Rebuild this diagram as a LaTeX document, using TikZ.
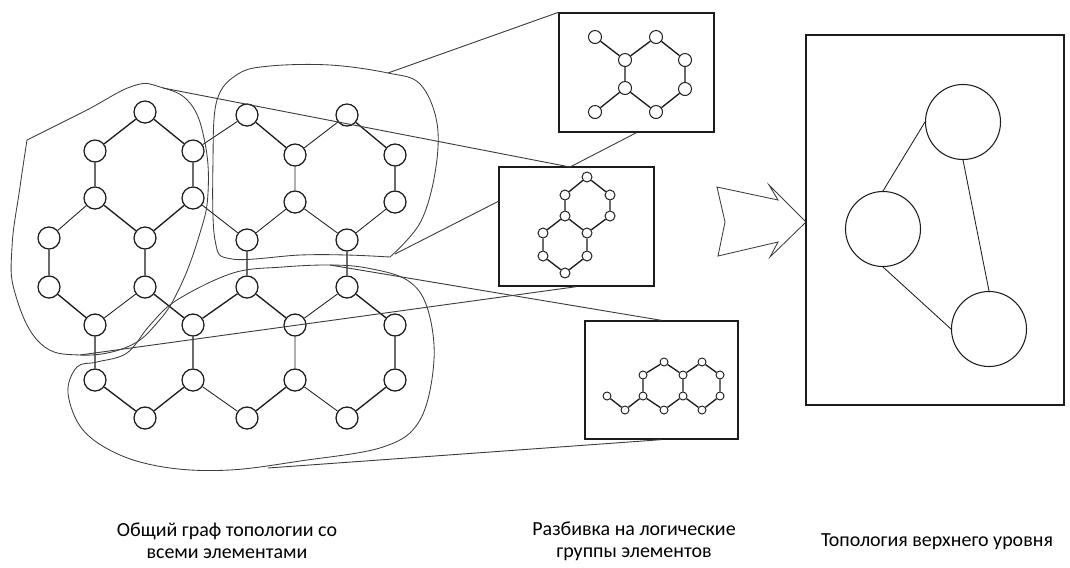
\documentclass[tikz,border=0pt]{standalone}
\usepackage{fontspec}
\setmainfont{Carlito}
\usepackage{xcolor}
\usepackage{tikz}
\definecolor{ink}{HTML}{1C1C1C}
\definecolor{blobgray}{HTML}{3C3C3C}

\begin{document}
\begin{tikzpicture}[x=0.025cm, y=-0.025cm,
  vtx/.style={circle, draw=ink, line width=0.9pt, inner sep=0pt, minimum size=0.55cm},
  vtxa/.style={vtx, line width=0.7pt, minimum size=0.325cm},
  vtxb/.style={vtx, line width=0.7pt, minimum size=0.25cm},
  vtxc/.style={vtx, line width=0.65pt, minimum size=0.2cm},
  bigvtx/.style={circle, draw=ink, line width=0.75pt, inner sep=0pt, minimum size=1.875cm},
  bond/.style={draw=ink, line width=0.95pt},
  thinbond/.style={draw=ink, line width=0.6pt},
  blob/.style={draw=blobgray, line width=0.6pt},
  zoomline/.style={draw=blobgray, line width=0.65pt},
  frame/.style={draw=ink, line width=0.9pt, inner sep=0pt},
  caption/.style={align=center, font=\fontsize{14.2}{15.6}\selectfont}]
  \useasboundingbox (0,0) rectangle (1070,567);

  % full topology graph
  \node[vtx] (a) at (145,112) {};
  \node[vtx] (b) at (95,151) {};
  \node[vtx] (c) at (193,151) {};
  \node[vtx] (d) at (95,198) {};
  \node[vtx] (e) at (193,198) {};
  \node[vtx] (f) at (49,238) {};
  \node[vtx] (g) at (145,238) {};
  \node[vtx] (h) at (49,287) {};
  \node[vtx] (i) at (145,287) {};
  \node[vtx] (j) at (95,325) {};
  \node[vtx] (k) at (247,115) {};
  \node[vtx] (l) at (347,115) {};
  \node[vtx] (m) at (295,155) {};
  \node[vtx] (n) at (395,155) {};
  \node[vtx] (o) at (295,202) {};
  \node[vtx] (p) at (395,202) {};
  \node[vtx] (q) at (247,240) {};
  \node[vtx] (r) at (347,240) {};
  \node[vtx] (s) at (247,287) {};
  \node[vtx] (t) at (347,287) {};
  \node[vtx] (u) at (193,325) {};
  \node[vtx] (v) at (295,325) {};
  \node[vtx] (w) at (395,325) {};
  \node[vtx] (x) at (95,380) {};
  \node[vtx] (y) at (193,380) {};
  \node[vtx] (z) at (295,380) {};
  \node[vtx] (aa) at (395,380) {};
  \node[vtx] (bb) at (145,418) {};
  \node[vtx] (cc) at (247,418) {};
  \node[vtx] (dd) at (347,418) {};

  \draw[bond] (a) -- (b) (a) -- (c) (b) -- (d) (c) -- (e) (d) -- (g) (e) -- (g)
    (f) -- (h) (g) -- (i) (h) -- (j) (i) -- (u) (j) -- (x)
    (k) -- (m) (l) -- (n) (n) -- (p) (q) -- (s) (r) -- (t)
    (s) -- (u) (s) -- (v) (t) -- (w) (u) -- (y) (w) -- (aa)
    (x) -- (bb) (bb) -- (y) (cc) -- (z) (dd) -- (aa);
  \draw[thinbond] (d) -- (f) (i) -- (j) (c) -- (k) (e) -- (q) (m) -- (l)
    (m) -- (o) (o) -- (q) (o) -- (r) (p) -- (r) (t) -- (v) (v) -- (z)
    (y) -- (cc) (z) -- (dd);

  % groups
  \draw[blob] plot[smooth, tension=0.7] coordinates {(27,140) (85,111) (133,86) (160,87)
    (190,103) (205,143) (208,193) (200,233) (180,287) (157,323) (127,347) (80,355)
    (40,343) (15,293) (12,247) (20,187) (27,140)};
  \draw[blob] plot[smooth, tension=0.6] coordinates {(390,257) (420,223) (435,173)
    (437,123) (420,84) (388,73) (330,65) (270,66) (238,74) (217,100) (213,160)
    (215,240) (232,259) (300,255) (347,255) (390,257)};
  \draw[blob] plot[smooth cycle, tension=0.6] coordinates {(127,353) (150,325) (177,300)
    (233,273) (283,267) (330,265) (367,268) (407,280) (427,307) (434,360) (420,420)
    (383,447) (300,461) (230,470) (170,468) (120,455) (83,430) (68,393) (77,367)
    (97,362)};

  \coordinate (g1top) at (163,88);
  \coordinate (g1bot) at (80,355);
  \coordinate (g2top) at (388,73);
  \coordinate (g2bot) at (395,254);
  \coordinate (g3top) at (330,265);
  \coordinate (g3bot) at (268,468);

  % logical groups
  \node[frame, minimum width=3.875cm, minimum height=2.975cm] (box1) at (636.5,72.5) {};
  \node[frame, minimum width=3.875cm, minimum height=2.975cm] (box2) at (576.5,226.5) {};
  \node[frame, minimum width=3.825cm, minimum height=2.95cm] (box3) at (661.5,380) {};
  \coordinate (box2in) at (499,201);
  \coordinate (box2top) at (570,167);

  \draw[zoomline] (g2top) -- (box1.north west);
  \draw[zoomline] (g2bot) -- (box2in);
  \draw[zoomline] (g1top) -- (box2top);
  \draw[zoomline] (box1.south) -- (box2top);
  \draw[zoomline] (g1bot) -- (box2.south);
  \draw[zoomline] (g3top) -- (box3.north);
  \draw[zoomline] (g3bot) -- (box3.south);

  \node[vtxa] (a1) at (595,37) {};
  \node[vtxa] (a2) at (656,37) {};
  \node[vtxa] (a3) at (625,60) {};
  \node[vtxa] (a4) at (685,60) {};
  \node[vtxa] (a5) at (625,88) {};
  \node[vtxa] (a6) at (685,89) {};
  \node[vtxa] (a7) at (595,112) {};
  \node[vtxa] (a8) at (656,112) {};
  \draw[bond] (a1) -- (a3) (a3) -- (a2) (a2) -- (a4) (a4) -- (a6) (a6) -- (a8)
    (a8) -- (a5) (a5) -- (a3) (a5) -- (a7);

  \node[vtxb] (b1) at (587,177) {};
  \node[vtxb] (b2) at (565,195) {};
  \node[vtxb] (b3) at (610,195) {};
  \node[vtxb] (b4) at (565,216) {};
  \node[vtxb] (b5) at (610,216) {};
  \node[vtxb] (b6) at (543,233) {};
  \node[vtxb] (b7) at (587,233) {};
  \node[vtxb] (b8) at (543,256) {};
  \node[vtxb] (b9) at (587,256) {};
  \node[vtxb] (b10) at (565,273) {};
  \draw[bond] (b1) -- (b2) (b2) -- (b4) (b4) -- (b7) (b7) -- (b5) (b5) -- (b3)
    (b3) -- (b1) (b4) -- (b6) (b6) -- (b8) (b8) -- (b10) (b10) -- (b9) (b9) -- (b7);

  \node[vtxc] (c1) at (607,396) {};
  \node[vtxc] (c2) at (625,410) {};
  \node[vtxc] (c3) at (643,396) {};
  \node[vtxc] (c4) at (643,375) {};
  \node[vtxc] (c5) at (664,362) {};
  \node[vtxc] (c6) at (683,375) {};
  \node[vtxc] (c7) at (683,396) {};
  \node[vtxc] (c8) at (664,410) {};
  \node[vtxc] (c9) at (702,362) {};
  \node[vtxc] (c10) at (720,375) {};
  \node[vtxc] (c11) at (720,396) {};
  \node[vtxc] (c12) at (702,410) {};
  \draw[bond] (c1) -- (c2) (c2) -- (c3) (c3) -- (c4) (c4) -- (c5) (c5) -- (c6)
    (c6) -- (c7) (c7) -- (c8) (c8) -- (c3) (c6) -- (c9) (c9) -- (c10)
    (c10) -- (c11) (c11) -- (c12) (c12) -- (c7);

  % upper level
  \draw[blob] (717,187) -- (778,200) -- (769,185) -- (806,222) -- (770,257)
    -- (778,242) -- (718,256) -- (725,222) -- cycle;
  \node[frame, minimum width=6.45cm, minimum height=9.25cm] (top) at (935,220) {};
  \node[bigvtx] (t1) at (963,122) {};
  \node[bigvtx] (t2) at (883,229) {};
  \node[bigvtx] (t3) at (989,329) {};
  \draw[thinbond] (t1.west) -- (t2.north) (t1.south) -- (t3.north) (t2.south) -- (t3.west);

  % captions
  \node[caption] (cap1) at (227,541) {Общий граф топологии со\\всеми элементами};
  \node[caption] (cap2) at (634,541) {Разбивка на логические\\группы элементов};
  \node[caption] (cap3) at (937,542) {Топология верхнего уровня};
\end{tikzpicture}
\end{document}
